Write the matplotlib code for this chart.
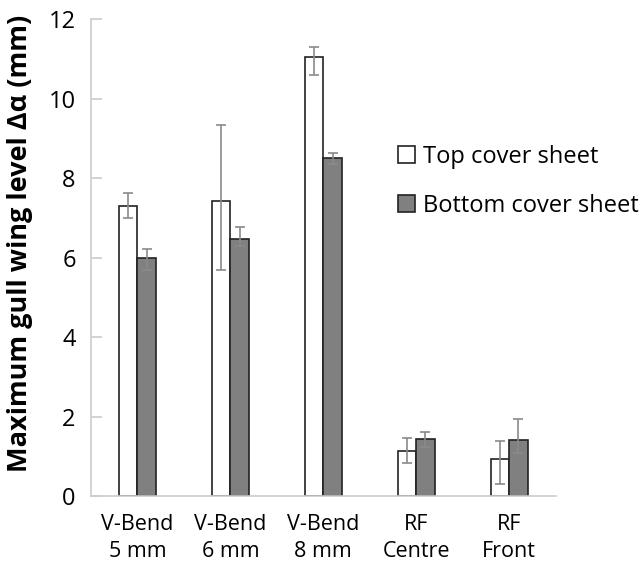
import matplotlib
matplotlib.use("Agg")
import matplotlib.pyplot as plt
import numpy as np

categories = ["V-Bend\n5 mm", "V-Bend\n6 mm", "V-Bend\n8 mm", "RF\nCentre", "RF\nFront"]
series_names = ["Top cover sheet", "Bottom cover sheet"]
top_vals = [7.31, 7.43, 11.06, 1.13, 0.92]
top_err_low = [0.30, 1.74, 0.47, 0.29, 0.61]
top_err_high = [0.31, 1.92, 0.25, 0.33, 0.46]
bot_vals = [5.99, 6.48, 8.51, 1.44, 1.41]
bot_err_low = [0.30, 0.18, 0.15, 0.21, 0.34]
bot_err_high = [0.22, 0.30, 0.13, 0.16, 0.53]
yticks = [0, 2, 4, 6, 8, 10, 12]

plt.rcParams['font.family'] = ['Open Sans', 'DejaVu Sans']

fig = plt.figure(figsize=(6.43, 5.64), dpi=100)
ax = fig.add_axes([0.1415, 0.1206, 0.7225, 0.8452])

x = np.arange(len(categories))
w = 0.2
err_kw = dict(ecolor='#8a8a8a', elinewidth=1.2, capsize=3.5, capthick=1.2)
ax.bar(x - w/2, top_vals, w, color='white', edgecolor='#222222', linewidth=1.2,
       yerr=[top_err_low, top_err_high], error_kw=err_kw, label=series_names[0])
ax.bar(x + w/2, bot_vals, w, color='#808080', edgecolor='#222222', linewidth=1.2,
       yerr=[bot_err_low, bot_err_high], error_kw=err_kw, label=series_names[1])

ax.set_xlim(-0.5, 4.5)
ax.set_ylim(0, 12)
ax.set_yticks(yticks)
ax.set_xticks(x)
ax.set_xticklabels(categories, fontsize=15.5, linespacing=1.35)
ax.tick_params(axis='x', length=0, pad=13)
ax.tick_params(axis='y', direction='in', length=8, color='#cccccc', width=1.2,
               labelsize=17, pad=11)
for s in ['top', 'right']:
    ax.spines[s].set_visible(False)
for s in ['left', 'bottom']:
    ax.spines[s].set_color('#cccccc')
    ax.spines[s].set_linewidth(1.2)

ax.set_ylabel("Maximum gull wing level Δα (mm)", fontsize=19.5, fontweight='bold')
ax.yaxis.set_label_coords(-0.125, 0.53)

ax.legend(loc='upper left', bbox_to_anchor=(0.605, 0.76), bbox_transform=fig.transFigure,
          frameon=False, fontsize=17, handlelength=0.7, handleheight=0.7,
          handletextpad=0.35, labelspacing=1.05, borderaxespad=0)

fig.savefig("out.png", dpi=100)
